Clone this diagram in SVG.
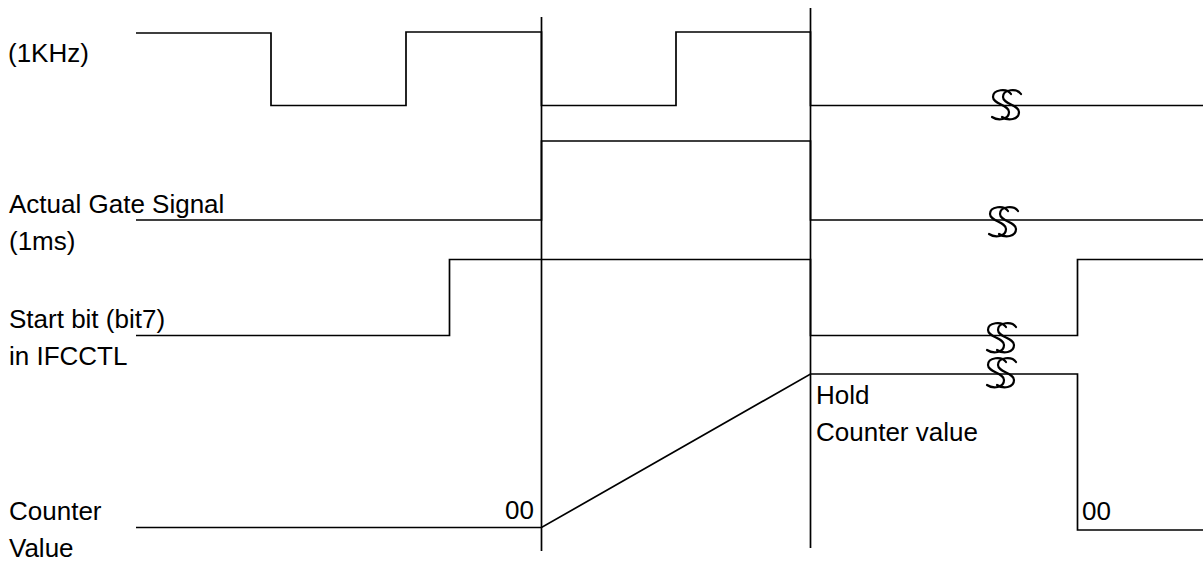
<svg xmlns="http://www.w3.org/2000/svg" width="1203" height="561" viewBox="0 0 1203 561">
<defs>
<style>
.w{fill:none;stroke:#000;stroke-width:1.7}
.t{font-family:"Liberation Sans",Arial,sans-serif;font-size:26px;fill:#000}
.b{fill:none;stroke:#000;stroke-width:2.2;stroke-linecap:round}
</style>
<g id="brk"><path class="b" d="M9,-11 C5,-17 -9,-16 -9,-8 C-9,-1 7,0 7,7 C7,15 -4,16 -10,12"/><path class="b" d="M19,-11 C15,-17 1,-16 1,-8 C1,-1 17,0 17,7 C17,15 6,16 0,12"/></g>
</defs>
<rect width="1203" height="561" fill="#fff"/>
<g id="labels">
<text class="t" x="8" y="62">(1KHz)</text>
<text class="t" x="9" y="213">Actual Gate Signal</text>
<text class="t" x="9" y="250">(1ms)</text>
<text class="t" x="9" y="328">Start bit (bit7)</text>
<text class="t" x="9" y="365">in IFCCTL</text>
<text class="t" x="9" y="520">Counter</text>
<text class="t" x="9" y="557">Value</text>
<text class="t" x="534" y="519" text-anchor="end">00</text>
<text class="t" x="816" y="404">Hold</text>
<text class="t" x="816" y="441">Counter value</text>
<text class="t" x="1082" y="520">00</text>
</g>
<g id="connectors">
<line class="w" x1="541.5" y1="17" x2="541.5" y2="551"/>
<line class="w" x1="810.5" y1="8" x2="810.5" y2="548"/>
<polyline id="clock" class="w" points="136,33 271,33 271,105.5 406,105.5 406,32 541.5,32 541.5,105.5 676,105.5 676,32 810.5,32 810.5,105.5 1203,105.5"/>
<polyline id="gate" class="w" points="136,220 541.5,220 541.5,141 810.5,141 810.5,220 1203,220"/>
<polyline id="start" class="w" points="136,335.5 449.5,335.5 449.5,259.5 810.5,259.5 810.5,335.5 1077.5,335.5 1077.5,259.5 1203,259.5"/>
<polyline id="counter" class="w" points="136,527.5 541.5,527.5 810.5,374 1077.5,374 1077.5,530 1203,530"/>
<use href="#brk" x="1002" y="105"/>
<use href="#brk" x="999" y="222"/>
<use href="#brk" x="997" y="338"/>
<use href="#brk" x="997" y="373"/>
</g>
</svg>
